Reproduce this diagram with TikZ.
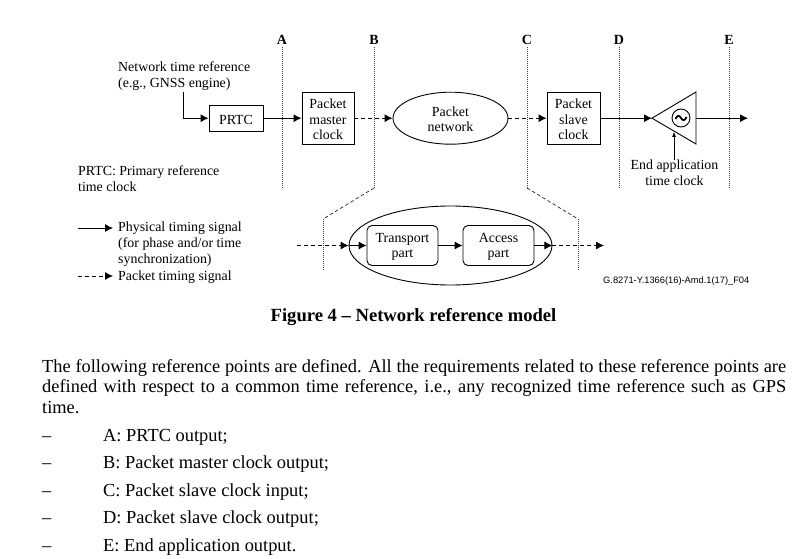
\documentclass[tikz,border=0pt]{standalone}
\usepackage{fontspec}
\setmainfont{Liberation Serif}
\setsansfont{Liberation Sans}
\usetikzlibrary{arrows.meta,shapes.geometric,positioning}
\newcommand{\lowr}{\rule{0pt}{11.8pt}}
\tikzset{
  lbl/.style={inner sep=0pt,align=center,font=\fontsize{13.9}{15.7}\selectfont},
  lblL/.style={inner sep=0pt,align=left,anchor=west,font=\fontsize{13.9}{15.7}\selectfont},
  ref/.style={inner sep=0pt,font=\fontsize{14}{15}\selectfont\bfseries},
  box/.style={draw,line width=.9pt,inner sep=0pt,align=center,font=\fontsize{13.9}{15.7}\selectfont},
  sig/.style={line width=.9pt,-{Latex[length=8pt,width=8pt]}},
  pkt/.style={sig,dash pattern=on 4pt off 3pt},
  refline/.style={line width=.8pt,dash pattern=on 1pt off 1pt,black!75},
  zoomline/.style={line width=.7pt,dash pattern=on 3.5pt off 2.5pt,black!85},
  body/.style={inner sep=0pt,anchor=base west,font=\fontsize{18.4}{21}\selectfont},
}
\begin{document}
\begin{tikzpicture}[x=1pt,y=-1pt]
\useasboundingbox (0,0) rectangle (796,559);
\fill[white] (0,0) rectangle (796,559);

% reference letters
\node[ref] (lA) at (282,39.8) {A};
\node[ref] (lB) at (374,39.8) {B};
\node[ref] (lC) at (527,39.8) {C};
\node[ref] (lD) at (619,39.8) {D};
\node[ref] (lE) at (729,39.8) {E};
\coordinate (Ab) at (282,188);
\coordinate (Bb) at (374,188);
\coordinate (Cb) at (527,188);
\coordinate (Db) at (619,188);
\coordinate (Eb) at (729,188);
\coordinate (Bk) at (323,219);
\coordinate (Bl) at (323,271);
\coordinate (Ck) at (578,219);
\coordinate (Cl) at (578,271);
\draw[refline] (282,47) -- (Ab);
\draw[refline] (374,47) -- (Bb);
\draw[refline] (527,47) -- (Cb);
\draw[refline] (619,47) -- (Db);
\draw[refline] (729,47) -- (Eb);
\draw[zoomline] (Bb) -- (Bk);
\draw[refline] (Bk) -- (Bl);
\draw[zoomline] (Cb) -- (Ck);
\draw[refline] (Ck) -- (Cl);

% upper chain
\node[lblL] (ntr) at (118,76.3) {Network time reference\\(e.g., GNSS engine)};
\node[box,minimum width=54pt,minimum height=26pt] (prtc) at (236,118.2) {\lowr PRTC};
\node[box,minimum width=52pt,minimum height=52pt] (pm) at (328,118.2) {\lowr Packet\\master\\clock};
\node[box,ellipse,minimum width=115pt,minimum height=52pt] (pn) at (450.5,118.2) {\lowr Packet\\network};
\node[box,minimum width=53pt,minimum height=52pt] (ps) at (573.5,118.2) {\lowr Packet\\slave\\clock};
\coordinate (tip) at (652,118.2);
\coordinate (tt) at (696,92);
\coordinate (tb) at (696,144);
\coordinate (tr) at (696,118.2);
\coordinate (out) at (748,118.2);
\coordinate (in) at (183,92);
\draw[line width=.9pt] (tip) -- (tt) -- (tb) -- cycle;
\node[draw,circle,line width=.9pt,minimum size=18pt,inner sep=0pt] (osc) at (681,118) {};
\draw[line width=1.8pt] (675.5,119) .. controls (677.5,114.5) and (679.5,115.5) .. (681,118) .. controls (682.5,120.5) and (684.5,121.5) .. (686.5,117);
\draw[sig] (in) |- (prtc.west);
\draw[sig] (prtc.east) -- (pm.west);
\draw[pkt] (pm.east) -- (pn.west);
\draw[pkt] (pn.east) -- (ps.west);
\draw[sig] (ps.east) -- (tip);
\draw[sig] (tr) -- (out);
\node[lbl] (eat) at (674.5,172.5) {End application\\time clock};
\coordinate (eaa) at (674,132);
\draw[line width=.6pt,-{Latex[length=5pt,width=4pt]}] (eat.north -| eaa) -- (eaa);

\node[lblL] (prtcnote) at (78,179) {PRTC: Primary reference\\time clock};

% legend
\node[lblL] (leg1) at (118,244) {Physical timing signal\\(for phase and/or time\\synchronization)};
\node[lblL] (leg2) at (118,277) {Packet timing signal};
\coordinate (l1) at (78,228);
\coordinate (l2) at (78,276);
\coordinate (l1e) at (113,228);
\coordinate (l2e) at (113,276);
\draw[sig] (l1) -- (l1e);
\draw[pkt] (l2) -- (l2e);

% lower chain
\node[draw,ellipse,line width=.9pt,minimum width=203pt,minimum height=79pt,inner sep=0pt] (big) at (450.5,245.5) {};
\node[box,rounded corners=5pt,minimum width=71pt,minimum height=40pt] (tp) at (402.5,245.5) {\lowr Transport\\part};
\node[box,rounded corners=5pt,minimum width=71pt,minimum height=40pt] (ap) at (498.5,245.5) {\lowr Access\\part};
\coordinate (lin) at (297,245.5);
\coordinate (lout) at (604,245.5);
\draw[pkt] (lin) -- (big.west);
\draw[sig] (big.west) -- (tp.west);
\draw[sig] (tp.east) -- (ap.west);
\draw[sig] (ap.east) -- (big.east);
\draw[pkt] (big.east) -- (lout);

\node[inner sep=0pt,font=\fontsize{9.3}{10}\sffamily,anchor=west] (fid) at (603,281) {G.8271-Y.1366(16)-Amd.1(17)\_F04};

% caption and text
\node[inner sep=0pt,font=\fontsize{18.6}{21}\selectfont\bfseries] (cap) at (413.5,317.5) {Figure 4 – Network reference model};
\node[body] (t1) at (42,372) {\hbox to 744pt{The following reference points are defined. All the requirements related to these reference points are}};
\node[body] (t2) at (42,392.5) {\hbox to 744pt{defined with respect to a common time reference, i.e., any recognized time reference such as GPS}};
\node[body] (t3) at (42,413.5) {time.};
\node[body] (d1) at (42,441) {–};
\node[body] (d2) at (42,468.5) {–};
\node[body] (d3) at (42,496) {–};
\node[body] (d4) at (42,523.5) {–};
\node[body] (d5) at (42,551) {–};
\node[body] (i1) at (103,441) {A: PRTC output;};
\node[body] (i2) at (103,468.5) {B: Packet master clock output;};
\node[body] (i3) at (103,496) {C: Packet slave clock input;};
\node[body] (i4) at (103,523.5) {D: Packet slave clock output;};
\node[body] (i5) at (103,551) {E: End application output.};
\end{tikzpicture}
\end{document}
